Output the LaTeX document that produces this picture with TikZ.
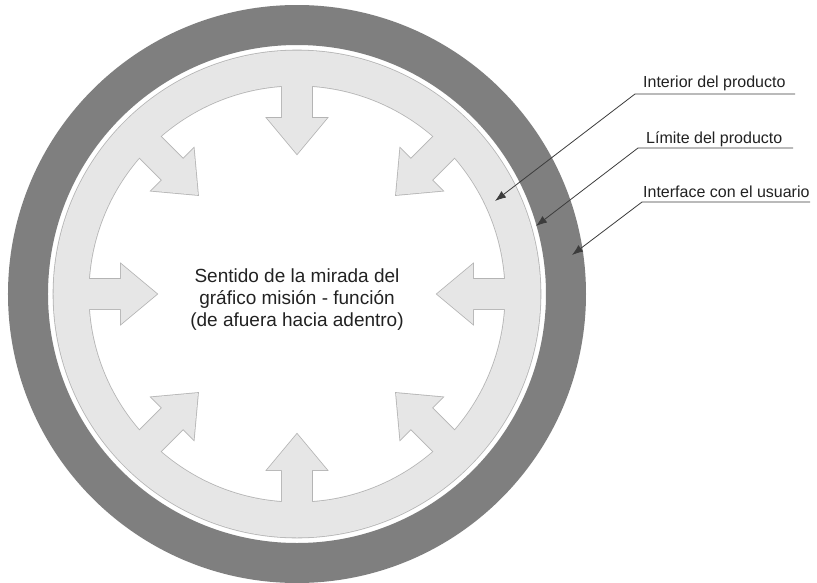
\documentclass[tikz,border=0pt]{standalone}
\usepackage{fontspec}
\setmainfont{Liberation Sans}
\usepackage{xcolor}
\usepackage{tikz}
\usetikzlibrary{positioning,arrows.meta,calc}
\definecolor{mfDark}{HTML}{7F7F7F}
\definecolor{mfLight}{HTML}{E6E6E6}
\definecolor{mfEdge}{HTML}{B4B4B4}
\definecolor{mfLead}{HTML}{3C3C3C}
\definecolor{mfText}{HTML}{222222}
\definecolor{mfWhite}{HTML}{FFFFFF}
\tikzset{
  mf-label/.style={font=\fontsize{16}{19}\selectfont, text=mfText,
    inner sep=0pt},
  mf-center/.style={font=\fontsize{19}{22}\selectfont, text=mfText,
    align=center, inner sep=0pt},
  mf-lead/.style={-{Latex[length=11pt,width=8pt]}, line width=0.8pt,
    draw=mfLead}
}
\newcommand{\mfArrow}{(140,0) -- (176,30) -- (176,15) -- (225,15)
  -- (225,-15) -- (176,-15) -- (176,-30) -- cycle}

\begin{document}
\begin{tikzpicture}[
  x=1pt, y=1pt,
  edge/.style={draw=mfEdge, line width=1.6pt},
  body/.style={fill=mfLight}
]
\useasboundingbox[fill=mfWhite] (-297,-288) rectangle (520,294);
% Interface ring
\fill[mfDark, even odd rule] (0,0) circle (289) (0,0) circle (249);
% Product boundary: outlines first, fills on top
\draw[edge] (0,0) circle (243.5) (0,0) circle (208.5);
\foreach \a in {0,45,...,315}{
  \draw[edge, rotate=\a] \mfArrow;
}
\fill[body, even odd rule] (0,0) circle (243.5) (0,0) circle (208.5);
\foreach \a in {0,45,...,315}{
  \fill[body, rotate=\a] \mfArrow;
}
% Centre text
\node[mf-center] (sentido) at (0,-6)
  {Sentido de la mirada del\\gráfico misión - función\\(de afuera hacia adentro)};
% Leaders
\coordinate (uInt) at (338,200);  \coordinate (uIntE) at (498,200);
\coordinate (uLim) at (341,146);  \coordinate (uLimE) at (496,146);
\coordinate (uIfc) at (345,92);   \coordinate (uIfcE) at (513,92);
\coordinate (tInt) at (198,93);
\coordinate (tLim) at (239,68);
\coordinate (tIfc) at (275,39);
\node[mf-label, anchor=base west] (nInt) at ([xshift=8pt,yshift=7pt]uInt) {Interior del producto};
\node[mf-label, anchor=base west] (nLim) at ([xshift=8pt,yshift=5pt]uLim) {Límite del producto};
\node[mf-label, anchor=base west] (nIfc) at ([xshift=1pt,yshift=5pt]uIfc) {Interface con el usuario};
\draw[mf-lead] (uIntE) -- (uInt) -- (tInt);
\draw[mf-lead] (uLimE) -- (uLim) -- (tLim);
\draw[mf-lead] (uIfcE) -- (uIfc) -- (tIfc);
\end{tikzpicture}
\end{document}
